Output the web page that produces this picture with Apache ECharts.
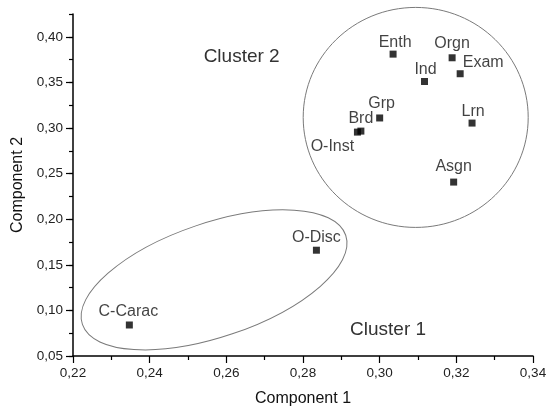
<!DOCTYPE html>
<html>
<head>
<meta charset="utf-8">
<script src="https://cdn.jsdelivr.net/npm/echarts@6/dist/echarts.min.js"></script>
<style>html,body{margin:0;padding:0;background:#fff;}#c{width:551px;height:410px;}</style>
</head>
<body>
<div id="c"></div>
<script>
// ---- data ----
const names = ['C-Carac','O-Disc','Enth','Orgn','Exam','Ind','Grp','Brd','O-Inst','Lrn','Asgn'];
const comp1 = [0.2347,0.2835,0.3035,0.3189,0.3210,0.3117,0.3000,0.2951,0.2942,0.3241,0.3193];
const comp2 = [0.0840,0.1660,0.3810,0.3770,0.3595,0.3510,0.3110,0.2966,0.2955,0.3054,0.2407];
const xTicks = [0.22,0.24,0.26,0.28,0.30,0.32,0.34];
const yTicks = [0.05,0.10,0.15,0.20,0.25,0.30,0.35,0.40];
const clusterNames = ['Cluster 1','Cluster 2'];
const clusterLabelAt = [[0.3022,0.0786],[0.2640,0.3777]];
const clusterCenters = [[0.2568,0.1335],[0.3094,0.3116]];

// ---- style (label offsets in px, ellipse radii in px) ----
const labelOffset = {
  'C-Carac':[-1,-13],'O-Disc':[0,-13],'Enth':[2,-12],'Orgn':[0,-14],'Exam':[23,-11],
  'Ind':[1,-12],'Grp':[2,-14],'Brd':[0,-13],'O-Inst':[-25,14],'Lrn':[1,-11],'Asgn':[0,-15]
};
const ellipseShape = [{rx:139, ry:57, rot:18.7},{rx:112.5, ry:110, rot:0}];

const FONT = '"Liberation Sans", Arial, sans-serif';
const fmt = v => v.toFixed(2).replace('.', ',');

const chart = echarts.init(document.getElementById('c'), null, {renderer:'canvas'});
const pts = names.map((n,i)=>({name:n, value:[comp1[i], comp2[i]],
  label:{offset: labelOffset[n]}}));

chart.setOption({
  animation:false,
  backgroundColor:'#fff',
  grid:{left:73,right:18,top:14,bottom:54,containLabel:false,outerBoundsMode:'none'},
  xAxis:{
    type:'value', min:0.22, max:0.34, interval:0.02,
    name:'Component 1', nameLocation:'middle', nameGap:35,
    nameTextStyle:{fontFamily:FONT,fontSize:16,color:'#111'},
    axisLine:{show:true,lineStyle:{color:'#000',width:1.5}},
    axisTick:{show:true,length:7,inside:false,lineStyle:{color:'#000',width:1.2}},
    minorTick:{show:true,splitNumber:2,length:4,lineStyle:{color:'#000',width:1.2}},
    axisLabel:{fontFamily:FONT,fontSize:13.5,color:'#222',margin:10,formatter:v=>fmt(v),
      customValues: xTicks},
    splitLine:{show:false}
  },
  yAxis:[{
    type:'value', min:0.05, max:0.425, interval:0.05, position:'left',
    name:'Component 2', nameLocation:'middle', nameGap:46, nameRotate:90,
    nameTextStyle:{fontFamily:FONT,fontSize:16,color:'#111'},
    axisLine:{show:true,lineStyle:{color:'#000',width:1.5}},
    axisTick:{show:true,length:7,customValues:yTicks,lineStyle:{color:'#000',width:1.2}},
    axisLabel:{fontFamily:FONT,fontSize:13.5,color:'#222',margin:10,formatter:v=>fmt(v),
      customValues:yTicks},
    splitLine:{show:false}
  },{
    type:'value', min:0.05, max:0.425, interval:0.025, position:'left', offset:0,
    axisLine:{show:false},
    axisTick:{show:true,length:4,lineStyle:{color:'#000',width:1.2}},
    axisLabel:{show:false},
    splitLine:{show:false}
  }],
  series:[{
    type:'scatter', xAxisIndex:0, yAxisIndex:0,
    symbol:'rect', symbolSize:7,
    itemStyle:{color:'#000'},
    label:{show:true, position:'inside', formatter:'{b}',
      fontFamily:FONT, fontSize:16, color:'#111'},
    data:pts
  }]
});

function drawAnnotations(){
  const els = [];
  clusterCenters.forEach((c,i)=>{
    const p = chart.convertToPixel({xAxisIndex:0,yAxisIndex:0}, c);
    const s = ellipseShape[i];
    els.push({type:'ellipse', x:p[0], y:p[1], rotation:s.rot*Math.PI/180,
      shape:{cx:0,cy:0,rx:s.rx,ry:s.ry}, silent:true,
      style:{fill:null, stroke:'#7a7a7a', lineWidth:1}});
  });
  clusterLabelAt.forEach((c,i)=>{
    const p = chart.convertToPixel({xAxisIndex:0,yAxisIndex:0}, c);
    els.push({type:'text', x:p[0], y:p[1], silent:true,
      style:{text:clusterNames[i], fontFamily:FONT, fontSize:19, fill:'#333',
        align:'center', verticalAlign:'middle'}});
  });
  chart.setOption({graphic:{elements:els}});
}
drawAnnotations();
</script>
</body>
</html>
